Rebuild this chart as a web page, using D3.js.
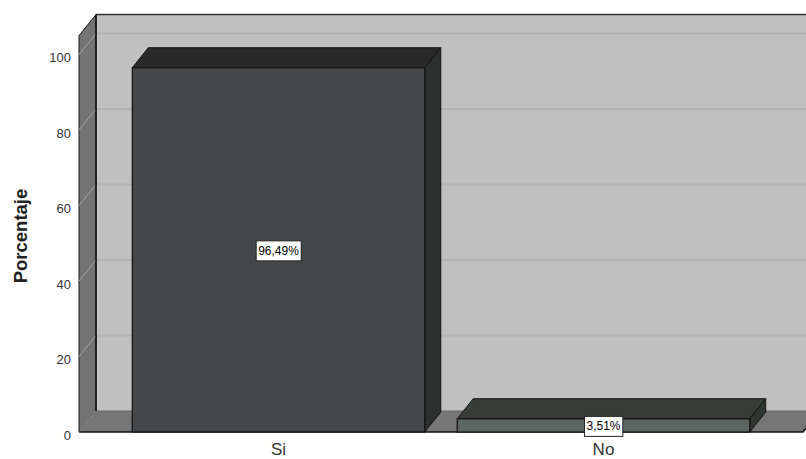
<!DOCTYPE html>
<html>
<head>
<meta charset="utf-8">
<script src="https://cdn.jsdelivr.net/npm/d3@7/dist/d3.min.js"></script>
<style>
html,body{margin:0;padding:0;background:#fff;}
svg{display:block;}
</style>
</head>
<body>
<svg id="chart" width="806" height="459"></svg>
<script>
const categories = ["Si", "No"];
const values = [96.49, 3.51];
const valueLabels = ["96,49%", "3,51%"];
const yTicks = [0, 20, 40, 60, 80, 100];
const frontColors = ["#464749", "#5a6661"];
const topColors = ["#292929", "#363e3a"];
const sideColors = ["#2d2f2e", "#2f3632"];

const svg = d3.select("#chart");
const W = 806, H = 459;
const x0 = 79, x1 = 803;
const wallDx = 17, wallDy = -21;
const barDx = 16, barDy = -20;

const y = d3.scaleLinear().domain([0, 105]).range([432, 35.6]);
const x = d3.scaleBand().domain(categories).range([x0, x1]).paddingInner(0.1).paddingOuter(0.164);

const pts = a => a.map(p => p.join(",")).join(" ");

// back wall
svg.append("polygon")
  .attr("points", pts([[x0 + wallDx, y(105) + wallDy], [W + 40, y(105) + wallDy], [W + 40, y(0) + wallDy], [x0 + wallDx, y(0) + wallDy]]))
  .attr("fill", "#c0c0c0");
// gridlines on back wall
svg.selectAll(".grid").data(yTicks.filter(d => d > 0)).enter().append("line")
  .attr("x1", x0 + wallDx).attr("x2", W + 40)
  .attr("y1", d => y(d) + wallDy).attr("y2", d => y(d) + wallDy)
  .attr("stroke", "#b2b2b2").attr("stroke-width", 2);
// top edge of back wall
svg.append("line").attr("x1", x0 + wallDx).attr("x2", W + 40)
  .attr("y1", y(105) + wallDy).attr("y2", y(105) + wallDy)
  .attr("stroke", "#333").attr("stroke-width", 1.5);

// left wall
svg.append("polygon")
  .attr("points", pts([[x0, y(105)], [x0 + wallDx, y(105) + wallDy], [x0 + wallDx, y(0) + wallDy], [x0, y(0)]]))
  .attr("fill", "#737373").attr("stroke", "#1a1a1a").attr("stroke-width", 1).attr("stroke-linejoin", "round");
svg.selectAll(".lgrid").data(yTicks).enter().append("line")
  .attr("x1", x0).attr("x2", x0 + wallDx)
  .attr("y1", d => y(d)).attr("y2", d => y(d) + wallDy)
  .attr("stroke", "#a6a6a6").attr("stroke-width", 1);

// floor
svg.append("polygon")
  .attr("points", pts([[x0, y(0)], [x0 + wallDx, y(0) + wallDy], [W + 40, y(0) + wallDy], [W + 40, y(0)]]))
  .attr("fill", "#767676");
svg.append("line").attr("x1", x0 + wallDx).attr("x2", W + 40)
  .attr("y1", y(0) + wallDy).attr("y2", y(0) + wallDy)
  .attr("stroke", "#6a6a6a").attr("stroke-width", 1);
svg.append("polygon")
  .attr("points", pts([[x1, y(0)], [x1 + wallDx, y(0) + wallDy], [W + 40, y(0) + wallDy], [W + 40, y(0)]]))
  .attr("fill", "#fff");
svg.append("polyline")
  .attr("points", pts([[x0, y(0)], [x1, y(0)], [x1 + wallDx, y(0) + wallDy]]))
  .attr("fill", "none").attr("stroke", "#111").attr("stroke-width", 1.5);
// back wall left edge
svg.append("line").attr("x1", x0 + wallDx).attr("x2", x0 + wallDx)
  .attr("y1", y(105) + wallDy).attr("y2", y(0) + wallDy)
  .attr("stroke", "#111").attr("stroke-width", 1.5);

// bars
const bars = svg.selectAll(".bar").data(categories.map((c, i) => ({c, v: values[i], i}))).enter().append("g");
bars.each(function(d) {
  const g = d3.select(this);
  const l = x(d.c), r = x(d.c) + x.bandwidth(), t = y(d.v), b = y(0);
  g.append("polygon").attr("points", pts([[l, t], [l + barDx, t + barDy], [r + barDx, t + barDy], [r, t]]))
    .attr("fill", topColors[d.i]).attr("stroke", "#111").attr("stroke-width", 1).attr("stroke-linejoin", "round");
  g.append("polygon").attr("points", pts([[r, t], [r + barDx, t + barDy], [r + barDx, b + barDy], [r, b]]))
    .attr("fill", sideColors[d.i]).attr("stroke", "#111").attr("stroke-width", 1).attr("stroke-linejoin", "round");
  g.append("rect").attr("x", l).attr("y", t).attr("width", r - l).attr("height", b - t)
    .attr("fill", frontColors[d.i]).attr("stroke", "#111").attr("stroke-width", 1.2);
});

// value labels
bars.each(function(d) {
  const g = d3.select(this);
  const cx = x(d.c) + x.bandwidth() / 2;
  const cy = (y(d.v) + y(0)) / 2 + 1;
  const txt = g.append("text").attr("x", cx).attr("y", cy + 4)
    .attr("text-anchor", "middle").attr("font-family", "Arial, 'Liberation Sans', sans-serif")
    .attr("font-size", 12).attr("fill", "#000").text(valueLabels[d.i]);
  const bb = txt.node().getBBox();
  g.insert("rect", "text").attr("x", bb.x - 2).attr("y", cy - 10).attr("width", bb.width + 4).attr("height", 20)
    .attr("fill", "#fff").attr("stroke", "#222").attr("stroke-width", 1);
});

// y tick labels
svg.selectAll(".ytick").data(yTicks).enter().append("text")
  .attr("x", 71).attr("y", d => y(d) + 8)
  .attr("text-anchor", "end").attr("font-family", "Arial, 'Liberation Sans', sans-serif")
  .attr("font-size", 13).attr("fill", "#333").text(d => d);

// x labels
svg.selectAll(".xlab").data(categories).enter().append("text")
  .attr("x", d => x(d) + x.bandwidth() / 2).attr("y", 455)
  .attr("text-anchor", "middle").attr("font-family", "Arial, 'Liberation Sans', sans-serif")
  .attr("font-size", 17).attr("fill", "#333").text(d => d);

// y title
svg.append("text").attr("transform", "translate(27,236) rotate(-90)")
  .attr("text-anchor", "middle").attr("font-family", "Arial, 'Liberation Sans', sans-serif")
  .attr("font-size", 18.5).attr("font-weight", "bold").attr("fill", "#222").text("Porcentaje");
</script>
</body>
</html>
